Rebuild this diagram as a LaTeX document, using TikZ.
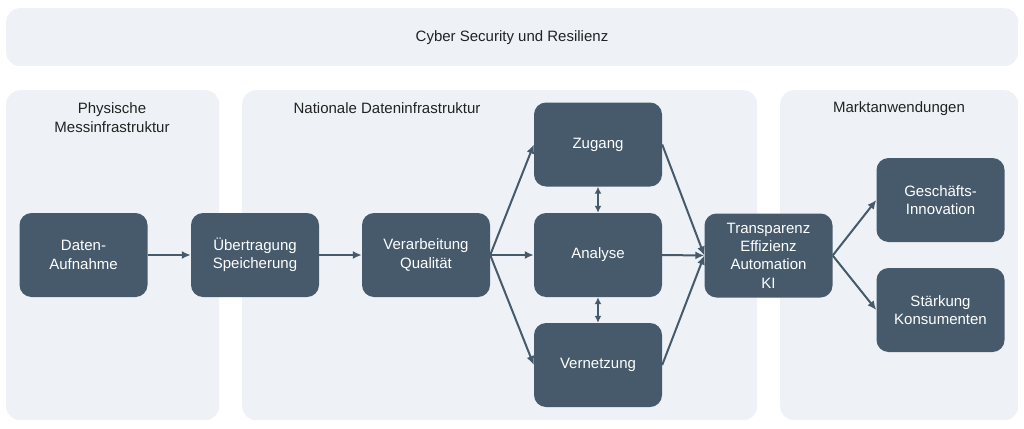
\documentclass[tikz,border=0pt]{standalone}
\usepackage{fontspec}
\setmainfont{Liberation Sans}
\usetikzlibrary{arrows.meta}
\definecolor{nodefill}{HTML}{465A6B}
\definecolor{panelfill}{HTML}{EEF2F6}
\definecolor{titletext}{HTML}{222222}
\begin{document}
\begin{tikzpicture}[x=1pt,y=-1pt,
  panel/.style={fill=panelfill, draw=none, rounded corners=14pt, inner sep=0, anchor=north west},
  ptitle/.style={text=titletext, align=center, font=\fontsize{15}{19}\selectfont, inner sep=0},
  box/.style={fill=nodefill, draw=none, rounded corners=12pt, text=white, align=center,
    font=\fontsize{15}{18.3}\selectfont, minimum width=128pt, minimum height=84pt, inner sep=0},
  flow/.style={draw=nodefill, line width=2pt, -{Latex[length=9pt,width=8pt]}},
  twoway/.style={draw=nodefill, line width=2pt, {Latex[length=7pt,width=7pt]}-{Latex[length=7pt,width=7pt]}}
]
\useasboundingbox[fill=white] (0,0) rectangle (1024,428);
% panels
\node[panel, minimum width=1012pt, minimum height=58pt] (cyber) at (6,8) {};
\node[ptitle] (cybert) at (512,37.5) {Cyber Security und Resilienz};
\node[panel, minimum width=213pt, minimum height=330pt] (phys) at (6,90) {};
\node[panel, minimum width=515pt, minimum height=330pt] (nat) at (242,90) {};
\node[panel, minimum width=238pt, minimum height=330pt] (markt) at (780,90) {};
\node[ptitle] (physt) at (112,118) {Physische\\Messinfrastruktur};
\node[ptitle] (natt) at (387,108.5) {Nationale Dateninfrastruktur};
\node[ptitle] (marktt) at (899,108.5) {Marktanwendungen};
% boxes
\node[box] (daten) at (83.5,255) {Daten-\\Aufnahme};
\node[box] (ueber) at (255,255) {Übertragung\\Speicherung};
\node[box] (verarb) at (426,255) {Verarbeitung\\Qualität};
\node[box] (zugang) at (598,144.5) {Zugang};
\node[box] (analyse) at (598,255) {Analyse};
\node[box] (vernetz) at (598,365) {Vernetzung};
\node[box] (transp) at (768.5,255.5) {Transparenz\\Effizienz\\Automation\\KI};
\node[box] (gesch) at (940.5,200) {Geschäfts-\\Innovation};
\node[box] (staerk) at (940.5,310) {Stärkung\\Konsumenten};
% connectors
\draw[flow] (daten) -- (ueber);
\draw[flow] (ueber) -- (verarb);
\draw[flow] (verarb.east) -- (zugang.west);
\draw[flow] (verarb.east) -- (analyse.west);
\draw[flow] (verarb.east) -- (vernetz.west);
\draw[flow] (zugang.east) -- (transp.west);
\draw[flow] (analyse.east) -- (transp.west);
\draw[flow] (vernetz.east) -- (transp.west);
\draw[flow] (transp.east) -- (gesch.west);
\draw[flow] (transp.east) -- (staerk.west);
\draw[twoway] (zugang.south) -- (analyse.north);
\draw[twoway] (analyse.south) -- (vernetz.north);
\end{tikzpicture}
\end{document}
